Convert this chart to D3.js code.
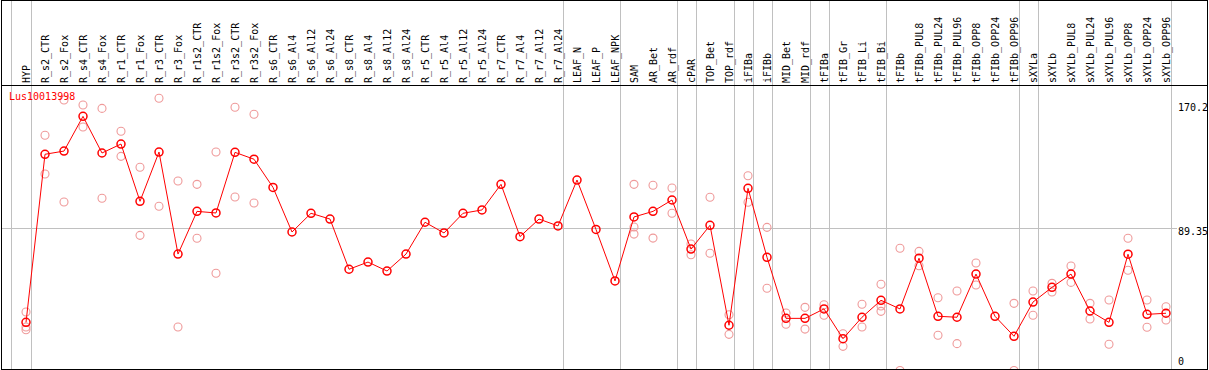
<!DOCTYPE html>
<html>
<head>
<meta charset="utf-8">
<script src="https://cdn.jsdelivr.net/npm/d3@7"></script>
<style>
  html, body { margin: 0; padding: 0; background: #fff; }
  svg { display: block; }
  text { font-family: "DejaVu Sans Mono", "Liberation Mono", monospace; font-size: 10px; }
</style>
</head>
<body>
<div id="chart"></div>
<script>
const geneName = "Lus10013998";

const columns = [
    "HYP", "R_s2_CTR", "R_s2_Fox", "R_s4_CTR", "R_s4_Fox", "R_r1_CTR", "R_r1_Fox", "R_r3_CTR", "R_r3_Fox",
    "R_r1s2_CTR", "R_r1s2_Fox", "R_r3s2_CTR", "R_r3s2_Fox", "R_s6_CTR", "R_s6_Al4", "R_s6_Al12", "R_s6_Al24",
    "R_s8_CTR", "R_s8_Al4", "R_s8_Al12", "R_s8_Al24", "R_r5_CTR", "R_r5_Al4", "R_r5_Al12", "R_r5_Al24",
    "R_r7_CTR", "R_r7_Al4", "R_r7_Al12", "R_r7_Al24", "LEAF_N", "LEAF_P", "LEAF_NPK", "SAM", "AR_Bet", "AR_rdf",
    "cPAR", "TOP_Bet", "TOP_rdf", "iFIBa", "iFIBb", "MID_Bet", "MID_rdf", "tFIBa", "tFIB_Gr", "tFIB_Li", "tFIB_Bi",
    "tFIBb", "tFIBb_PUL8", "tFIBb_PUL24", "tFIBb_PUL96", "tFIBb_OPP8", "tFIBb_OPP24", "tFIBb_OPP96",
    "sXYLa", "sXYLb", "sXYLb_PUL8", "sXYLb_PUL24", "sXYLb_PUL96", "sXYLb_OPP8", "sXYLb_OPP24", "sXYLb_OPP96"
];

const meanValues = [
    30.1, 135.2, 137.2, 158.9, 136.0, 141.6, 105.8, 136.6, 72.8, 99.5,
    98.5, 136.4, 132.1, 114.5, 86.6, 98.3, 94.7, 63.3, 67.8, 62.2,
    72.8, 92.7, 86.0, 98.3, 100.4, 116.4, 83.7, 94.7, 90.4, 119.1,
    88.2, 56.0, 96.0, 99.5, 106.6, 75.9, 90.8, 28.3, 113.9, 70.8,
    32.6, 32.6, 38.5, 19.9, 33.3, 43.9, 38.5, 70.2, 33.9, 33.3,
    60.3, 33.9, 21.4, 42.8, 52.0, 60.3, 37.2, 30.1, 72.7, 35.1, 35.8
];

// individual replicates, one list per column
const replicateValues = [
    [36.6, 27.2, 25.5], [147.1, 122.9], [169.1, 105.4], [166.0, 152.3], [163.9, 107.7],
    [149.6, 133.9], [127.1, 84.5], [170.2, 102.7], [118.5, 27.2], [116.4, 82.7],
    [136.6, 60.8], [164.6, 108.5], [160.2, 104.7], [], [], [], [], [], [], [], [], [], [], [], [], [], [], [], [], [], [], [],
    [116.4, 89.7, 85.3], [115.8, 82.8], [114.1, 98.3], [79.1, 72.4], [108.3, 73.3],
    [34.9, 22.6], [121.8, 105.2], [89.5, 51.4], [36.0, 28.9], [39.5, 25.9],
    [41.1, 34.5], [23.0, 15.1], [41.4, 27.2], [53.9, 40.3, 37.0], [76.4, 0],
    [74.5, 65.5], [45.5, 22.0], [49.7, 16.8], [67.2, 53.5], [],
    [42.0, 0], [49.7, 34.5], [54.5, 49.1], [65.3, 55.1], [42.0, 32.2],
    [44.1, 16.4], [82.7, 62.7], [44.1, 27.0], [39.9, 31.6]
];

// columns followed by a group separator
const groupEnds = ["HYP", "R_r7_Al24", "LEAF_NPK", "AR_rdf", "cPAR", "TOP_rdf", "iFIBa", "iFIBb",
    "MID_rdf", "tFIBa", "tFIB_Bi", "tFIBb_OPP96", "sXYLa", "sXYLb_OPP96"];

const yTicks = [0, 89.35, 170.2];
const yMax = 170.2;

const width = 1209, height = 370;
const headerBottom = 85, plotBottom = 369;

const xScale = d3.scalePoint().domain(columns).range([26, 1166]);
const yScale = d3.scaleLinear().domain([0, yMax]).range([370.5, 98.3]);

const svg = d3.select("#chart")
    .append("svg")
    .attr("width", width)
    .attr("height", height);

svg.append("defs").append("clipPath")
    .attr("id", "plotClip")
    .append("rect")
    .attr("x", 2).attr("y", headerBottom + 1)
    .attr("width", 1205).attr("height", plotBottom - headerBottom - 1);

// vertical group separators
const seps = [xScale("HYP") - 15].concat(groupEnds.map(c => xScale(c) + 4.5));
svg.append("g")
    .selectAll("line")
    .data(seps)
    .enter()
    .append("line")
    .attr("x1", d => Math.round(d) + 0.5)
    .attr("x2", d => Math.round(d) + 0.5)
    .attr("y1", 0)
    .attr("y2", plotBottom)
    .attr("stroke", "#c0c0c0");

// middle grid line
const yMid = Math.round(yScale(yTicks[1])) + 0.5;
svg.append("line")
    .attr("x1", 1).attr("x2", 1177)
    .attr("y1", yMid).attr("y2", yMid)
    .attr("stroke", "#c0c0c0");

// column labels
svg.append("g")
    .selectAll("text")
    .data(columns)
    .enter()
    .append("text")
    .attr("transform", d => `translate(${xScale(d) + 3.5}, 83) rotate(-90)`)
    .attr("fill", "#000")
    .text(d => d);

const plot = svg.append("g").attr("clip-path", "url(#plotClip)");

// replicates
const reps = [];
replicateValues.forEach((vals, i) => vals.forEach(v => reps.push({ col: columns[i], v: v })));
plot.append("g")
    .selectAll("circle")
    .data(reps)
    .enter()
    .append("circle")
    .attr("cx", d => xScale(d.col))
    .attr("cy", d => yScale(d.v))
    .attr("r", 4)
    .attr("fill", "none")
    .attr("stroke", "#ef9a9a")
    .attr("stroke-width", 1.1);

const means = meanValues.map((v, i) => ({ col: columns[i], v: v }));

plot.append("path")
    .datum(means)
    .attr("fill", "none")
    .attr("stroke", "#ff0000")
    .attr("stroke-width", 1)
    .attr("d", d3.line().x(d => xScale(d.col)).y(d => yScale(d.v)));

plot.append("g")
    .selectAll("circle")
    .data(means)
    .enter()
    .append("circle")
    .attr("cx", d => xScale(d.col))
    .attr("cy", d => yScale(d.v))
    .attr("r", 4)
    .attr("fill", "none")
    .attr("stroke", "#ff0000")
    .attr("stroke-width", 1.5);

// right hand scale labels
const tickOffset = { 0: -5.5, 89.35: 7.5, 170.2: 12.5 };
svg.append("g")
    .selectAll("text")
    .data(yTicks)
    .enter()
    .append("text")
    .attr("x", 1178)
    .attr("y", d => yScale(d) + tickOffset[d])
    .attr("fill", "#000")
    .text(d => d);

svg.append("text")
    .attr("x", 9)
    .attr("y", 100)
    .attr("fill", "#ff0000")
    .text(geneName);

// frame
const frame = svg.append("g").attr("stroke", "#000").attr("fill", "none");
frame.append("rect").attr("x", 1.5).attr("y", 0.5).attr("width", 1206).attr("height", plotBottom);
frame.append("line").attr("x1", 1).attr("x2", 1208).attr("y1", headerBottom + 0.5).attr("y2", headerBottom + 0.5);
</script>
</body>
</html>
